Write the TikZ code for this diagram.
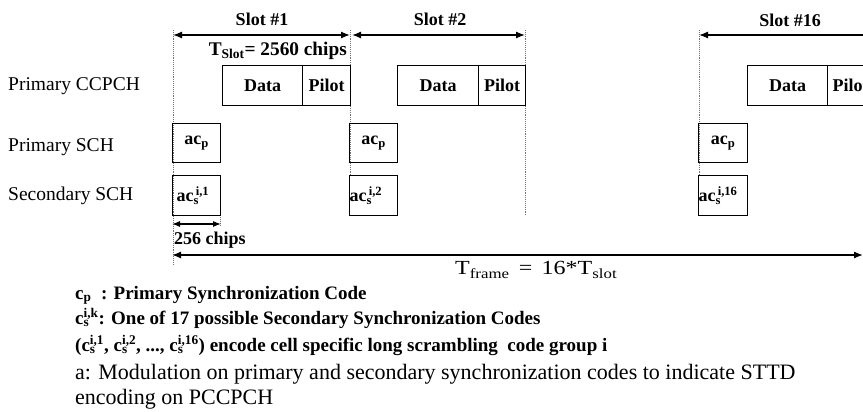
\documentclass[tikz,border=0pt]{standalone}
\usepackage{fontspec}
\setmainfont{Liberation Serif}
\newfontfamily\wideserif[FakeStretch=1.2]{Liberation Serif}
\usetikzlibrary{arrows.meta}
\newcommand{\sbsp}[2]{\makebox[0pt][l]{\textsubscript{#1}}\textsuperscript{#2}}
\begin{document}
\begin{tikzpicture}[x=1pt,y=-1pt,
  box/.style={draw,line width=1.4pt,inner sep=0pt,anchor=north west,font=\fontsize{18}{20}\selectfont\bfseries},
  guide/.style={draw=black!55,densely dotted,line width=0.9pt},
  dim/.style={{Latex[length=9pt,width=7pt]}-{Latex[length=9pt,width=7pt]},line width=1.3pt},
  rowlab/.style={font=\fontsize{19.5}{22}\selectfont,anchor=west,inner sep=0pt},
  toplab/.style={font=\fontsize{18}{20}\selectfont\bfseries,inner sep=0pt},
  leg/.style={font=\fontsize{19}{21}\selectfont\bfseries,anchor=base west,inner sep=0pt},
  legb/.style={font=\fontsize{22}{24}\selectfont,anchor=base west,inner sep=0pt}
]
\useasboundingbox (0,0) rectangle (863,412);
\clip (0,0) rectangle (863,412);

% guide lines
\coordinate (g1t) at (173,30); \coordinate (g1b) at (173,265);
\coordinate (g2t) at (350,30); \coordinate (g2b) at (350,175);
\coordinate (g3t) at (525,30); \coordinate (g3b) at (525,215);
\coordinate (g4t) at (699,30); \coordinate (g4b) at (699,175);
\coordinate (g5t) at (220,215); \coordinate (g5b) at (220,226);
\draw[guide] (g1t) -- (g1b);
\draw[guide] (g2t) -- (g2b);
\draw[guide] (g3t) -- (g3b);
\draw[guide] (g4t) -- (g4b);
\draw[guide] (g5t) -- (g5b);

% row labels
\node[rowlab] (lccpch) at (8,86) {Primary CCPCH};
\node[rowlab] (lpsch) at (8,147) {Primary SCH};
\node[rowlab] (lssch) at (8,196) {Secondary SCH};

% slot arrows
\coordinate (s1a) at (173,35); \coordinate (s1b) at (350,35);
\coordinate (s2a) at (352,35); \coordinate (s2b) at (525,35);
\coordinate (s16a) at (699,35); \coordinate (s16b) at (880,35);
\draw[dim] (s1a) -- (s1b);
\draw[dim] (s2a) -- (s2b);
\draw[dim] (s16a) -- (s16b);
\node[toplab] (t1) at (262,19) {Slot \#1};
\node[toplab] (t2) at (440,19) {Slot \#2};
\node[toplab] (t16) at (790,20) {Slot \#16};
\node[toplab,anchor=east,font=\fontsize{19.3}{21}\selectfont\bfseries] (tslot) at (347,51) {T\textsubscript{Slot}= 2560 chips};

% CCPCH boxes
\node[box,minimum width=80pt,minimum height=40pt] (d1) at (222,65) {Data};
\node[box,minimum width=48pt,minimum height=40pt] (p1) at (302,65) {Pilot};
\node[box,minimum width=81pt,minimum height=40pt] (d2) at (397,65) {Data};
\node[box,minimum width=47pt,minimum height=40pt] (p2) at (478,65) {Pilot};
\node[box,minimum width=80pt,minimum height=40pt] (d16) at (747,65) {Data};
\node[box,minimum width=80pt,minimum height=40pt,text width=76pt,align=left] (p16) at (827,65) {\,Pilot};

% SCH boxes
\node[box,minimum width=48pt,minimum height=39pt] (ap1) at (172,123) {ac\textsubscript{p}};
\node[box,minimum width=48pt,minimum height=39pt] (ap2) at (349,123) {ac\textsubscript{p}};
\node[box,minimum width=49pt,minimum height=39pt] (ap16) at (698,123) {ac\textsubscript{p}};
\node[box,minimum width=48pt,minimum height=40pt,text width=46pt,align=left] (as1) at (172,175) {\,ac\sbsp{s}{\,i,1}};
\node[box,minimum width=48pt,minimum height=40pt,text width=48pt,align=left] (as2) at (349,175) {ac\sbsp{s}{\,i,2}};
\node[box,minimum width=49pt,minimum height=40pt,text width=49pt,align=left] (as16) at (698,175) {ac\sbsp{s}{\,i,16}};

% 256 chips
\coordinate (c1) at (172,224); \coordinate (c2) at (221,224);
\draw[{Latex[length=8pt,width=6pt]}-{Latex[length=8pt,width=6pt]},line width=1.1pt] (c1) -- (c2);
\node[toplab,anchor=west] (l256) at (174,240) {256 chips};

% frame arrow
\coordinate (f1) at (172,255); \coordinate (f2) at (863,255);
\draw[dim] (f1) -- (f2);
\node[font=\fontsize{20}{22}\selectfont\wideserif,anchor=west,inner sep=0pt] (tframe) at (455,270) {T\textsubscript{frame}\,\ =\ \,16*T\textsubscript{slot}};

% legend
\node[leg] (lg1) at (75,299) {c\textsubscript{p}\enspace : Primary Synchronization Code};
\node[leg] (lg2) at (75,324) {c\sbsp{s}{i,k}: One of 17 possible Secondary Synchronization Codes};
\node[leg] (lg3) at (75,351) {(c\sbsp{s}{i,1}, c\sbsp{s}{i,2}, ..., c\sbsp{s}{i,16}) encode cell specific long scrambling\ \ code group i};
\node[legb] (lg4) at (75,379) {a: Modulation on primary and secondary synchronization codes to indicate STTD};
\node[legb] (lg5) at (75,404) {encoding on PCCPCH};
\end{tikzpicture}
\end{document}
